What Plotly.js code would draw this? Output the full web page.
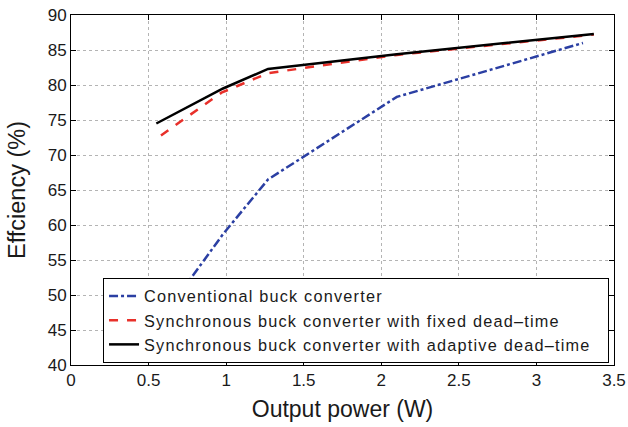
<!DOCTYPE html>
<html>
<head>
<meta charset="utf-8">
<script src="https://cdn.plot.ly/plotly-3.0.1.min.js"></script>
<style>html,body{margin:0;padding:0;background:#fff;}#chart{width:628px;height:427px;}
#chart .legendtext{letter-spacing:1.2px;}</style>
</head>
<body>
<div id="chart"></div>
<script>
const seriesNames = [
  "Conventional buck converter",
  "Synchronous buck converter with fixed dead\u2013time",
  "Synchronous buck converter with adaptive dead\u2013time"
];
const convX = [0.58, 0.98, 1.27, 2.10, 3.30];
const convY = [46.5, 58.7, 66.5, 78.3, 86.0];
const fixedX = [0.58, 0.97, 1.27, 2.10, 3.37];
const fixedY = [72.8, 78.9, 81.7, 84.3, 87.2];
const adaptX = [0.55, 0.98, 1.27, 2.10, 3.37];
const adaptY = [74.5, 79.5, 82.3, 84.4, 87.3];
const xTicks = [0, 0.5, 1, 1.5, 2, 2.5, 3, 3.5];
const yTicks = [40, 45, 50, 55, 60, 65, 70, 75, 80, 85, 90];

const FONT = "Liberation Sans, Arial, Helvetica, sans-serif";
// trailing non-breaking spaces widen the legend box (layout padding only)
const PAD = "\u00a0".repeat(16);
const traces = [
  {x: convX, y: convY, name: seriesNames[0], mode: "lines",
   line: {color: "#2b3fa3", width: 2.5, dash: "dashdot"}},
  {x: fixedX, y: fixedY, name: seriesNames[1], mode: "lines",
   line: {color: "#e8302a", width: 2.5, dash: "dash"}},
  {x: adaptX, y: adaptY, name: seriesNames[2] + PAD, mode: "lines",
   line: {color: "#000000", width: 2.5}}
];
const axisCommon = {
  showline: true, linecolor: "#000", linewidth: 1, mirror: "ticks",
  ticks: "inside", ticklen: 5, tickcolor: "#000",
  showgrid: true, gridcolor: "#b4b4b4", griddash: "dot", gridwidth: 1,
  zeroline: false,
  tickfont: {family: FONT, size: 17, color: "#1a1a1a"}
};
const layout = {
  width: 628, height: 427,
  margin: {l: 71, r: 14, t: 15, b: 62},
  paper_bgcolor: "#fff", plot_bgcolor: "#fff",
  showlegend: true,
  xaxis: Object.assign({}, axisCommon, {
    range: [0, 3.5], tickvals: xTicks, ticktext: xTicks.map(String),
    title: {text: "Output power (W)", font: {family: FONT, size: 23, color: "#1a1a1a"}, standoff: 11}
  }),
  yaxis: Object.assign({}, axisCommon, {
    range: [40, 90], tickvals: yTicks, ticktext: yTicks.map(String),
    title: {text: "Effciency (%)", font: {family: FONT, size: 23.5, color: "#1a1a1a"}, standoff: 15}
  }),
  legend: {
    x: 0.059, y: 0.006, xanchor: "left", yanchor: "bottom",
    bgcolor: "#fff", bordercolor: "#000", borderwidth: 1,
    font: {family: FONT, size: 16.3, color: "#1a1a1a"},
    tracegroupgap: 0, itemwidth: 30
  }
};
Plotly.newPlot("chart", traces, layout, {displayModeBar: false, staticPlot: true});
</script>
</body>
</html>
